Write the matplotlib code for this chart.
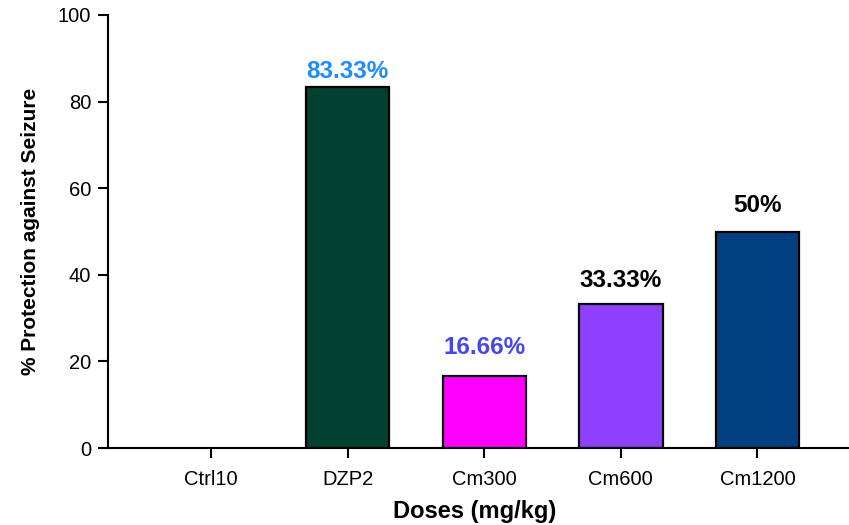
import numpy as np
import matplotlib
matplotlib.use('Agg')
import matplotlib.pyplot as plt

plt.rcParams['font.family'] = ['Liberation Sans', 'DejaVu Sans']

doses = ['Ctrl10', 'DZP2', 'Cm300', 'Cm600', 'Cm1200']
protection = [0, 83.33, 16.66, 33.33, 50]
bar_colors = ['#ffffff', '#024030', '#ff00ff', '#8f40ff', '#003f80']
labels = ['', '83.33%', '16.66%', '33.33%', '50%']
label_colors = ['black', '#1e8cff', '#4646f0', 'black', 'black']

fig = plt.figure(figsize=(8.49, 5.25), dpi=100)
ax = fig.add_axes([100/849, 1-448/525, 749/849, 433/525])

# gap between bar top and its label (data units), as in the original figure
gaps = [0, 1.0, 3.8, 2.8, 3.4]

xpos = np.arange(len(doses))
for i in xpos:
    if protection[i] > 0:
        ax.bar(xpos[i], protection[i], width=0.61, color=bar_colors[i],
               edgecolor='black', linewidth=1.6)
        ax.text(xpos[i], protection[i] + gaps[i], labels[i], ha='center', va='bottom',
                fontsize=17.5, fontweight='bold', color=label_colors[i])

ax.set_xlim(-0.813, 4.67)
ax.set_ylim(0, 100)
ax.spines['left'].set_position(('data', -0.755))
ax.spines['top'].set_visible(False)
ax.spines['right'].set_visible(False)
ax.spines['left'].set_linewidth(1.5)
ax.spines['bottom'].set_linewidth(1.5)

ax.set_xticks(xpos)
ax.set_xticklabels(doses, fontsize=14.5)
ax.set_yticks([0, 20, 40, 60, 80, 100])
ax.tick_params(axis='y', labelsize=14.5, length=7, width=1.5, pad=5)
ax.tick_params(axis='x', length=7, width=1.5, pad=9)

ax.set_xlabel('Doses (mg/kg)', fontsize=17, fontweight='bold', labelpad=8)
ax.set_ylabel('% Protection against Seizure', fontsize=15, fontweight='bold')
ax.yaxis.set_label_coords(-0.08, 0.5)

plt.savefig('out.png', dpi=100)
